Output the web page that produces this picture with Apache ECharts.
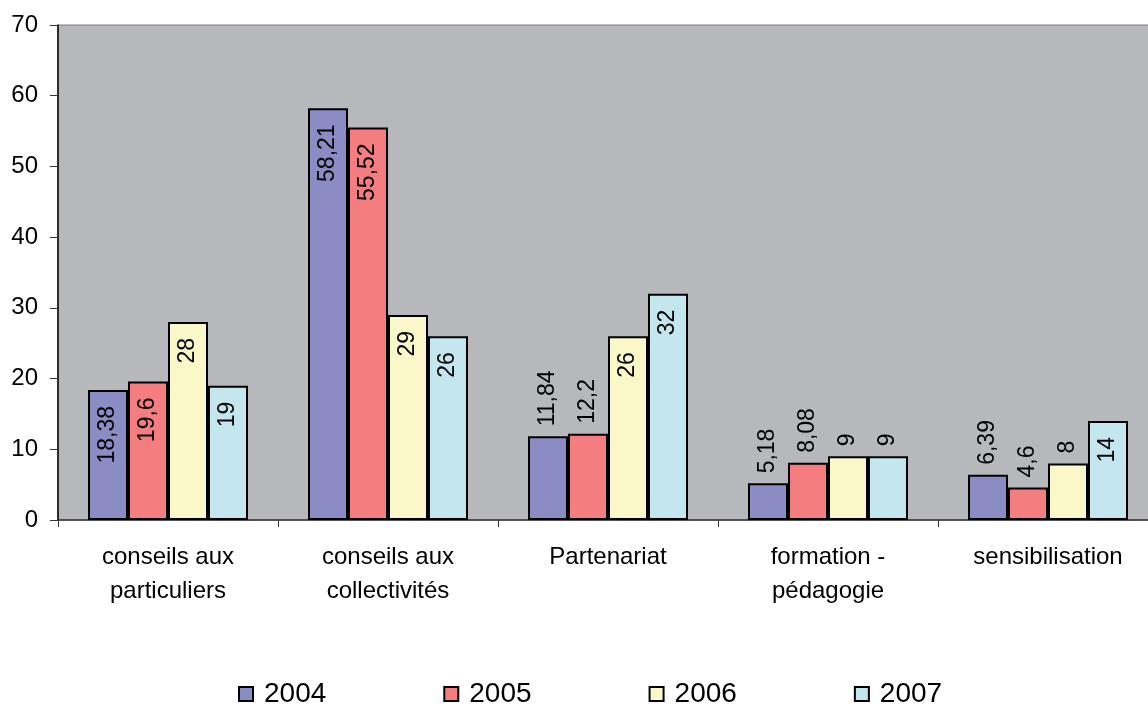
<!DOCTYPE html>
<html><head><meta charset="utf-8">
<script src="https://cdn.jsdelivr.net/npm/echarts@6/dist/echarts.min.js"></script>
<style>html,body{margin:0;padding:0;background:#fff;overflow:hidden}#c{width:1162px;height:706px}</style>
</head><body><div id="c"></div>
<script>
const categories = ['conseils aux\nparticuliers', 'conseils aux\ncollectivités', 'Partenariat', 'formation -\npédagogie', 'sensibilisation'];
const years = ['2004', '2005', '2006', '2007'];
const v2004 = [18.38, 58.21, 11.84, 5.18, 6.39];
const v2005 = [19.6, 55.52, 12.2, 8.08, 4.6];
const v2006 = [28, 29, 26, 9, 8];
const v2007 = [19, 26, 32, 9, 14];
const yTicks = [0, 10, 20, 30, 40, 50, 60, 70];
const colors = ['#8b8cc4', '#f47d80', '#faf8c8', '#c4e7ef'];
const FONT = 'Liberation Sans, Arial, sans-serif';

function fmt(v){ return String(v).replace('.', ','); }
function mkData(arr){
  return arr.map(v => {
    const inside = v >= 14;
    return {
      value: v,
      label: inside
        ? {position: 'insideTop', align: 'right', verticalAlign: 'middle', distance: 16}
        : {position: 'top', align: 'left', verticalAlign: 'middle', distance: 10}
    };
  });
}
const all = [v2004, v2005, v2006, v2007];
const series = all.map((arr, i) => ({
  name: years[i], type: 'bar', barWidth: 40, barGap: '0%',
  itemStyle: {color: colors[i], borderColor: '#000', borderWidth: 2},
  label: {show: true, rotate: 90, fontSize: 23, fontFamily: FONT, color: '#000',
          formatter: p => fmt(p.value)},
  data: mkData(arr)
}));

const chart = echarts.init(document.getElementById('c'));
chart.setOption({
  animation: false,
  grid: {left: 58, top: 25, width: 1100, height: 495, show: true, backgroundColor: '#b7b8bc',
         borderColor: '#808080', borderWidth: 1},
  legend: {data: years, top: 680, left: 238, padding: 0, itemWidth: 14, itemHeight: 14, itemGap: 117, icon: 'rect',
           textStyle: {fontSize: 28, fontFamily: FONT, color: '#000', padding: [0,0,0,6]}},
  xAxis: {type: 'category', data: categories,
          axisLine: {lineStyle: {color: '#333', width: 1.5}},
          axisTick: {show: true, length: 7, lineStyle: {color: '#333'}},
          axisLabel: {fontSize: 24, fontFamily: FONT, color: '#000', lineHeight: 34, margin: 20, interval: 0}},
  yAxis: {type: 'value', min: yTicks[0], max: yTicks[yTicks.length-1], interval: 10,
          splitLine: {show: false},
          axisLine: {show: true, lineStyle: {color: '#000', width: 1.5}},
          axisTick: {show: true, length: 8, lineStyle: {color: '#333'}},
          axisLabel: {fontSize: 24, fontFamily: FONT, color: '#000', margin: 20}},
  series: series
});
</script></body></html>
